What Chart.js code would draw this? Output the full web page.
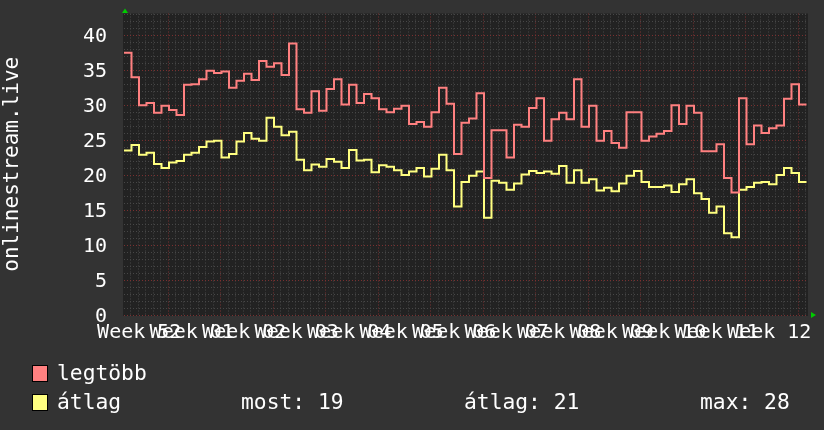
<!DOCTYPE html>
<html><head><meta charset="utf-8">
<script src="https://cdn.jsdelivr.net/npm/chart.js@4/dist/chart.umd.min.js"></script>
<style>
html,body{margin:0;padding:0;background:#333333;}
#wrap{position:relative;width:824px;height:430px;overflow:hidden;background:#333333;}
canvas{position:absolute;left:0;top:0;}
.lg{position:absolute;font-family:'DejaVu Sans Mono',monospace;font-size:21.3px;line-height:24px;color:#ffffff;white-space:pre;}
.sw{position:absolute;width:14px;height:15px;border:1px solid #000;}
</style></head><body>
<div id="wrap"><canvas id="c" width="824" height="430"></canvas><div id="legend"></div></div>
<script>
// ---- data ----
const weekLabels = ['Week 52','Week 01','Week 02','Week 03','Week 04','Week 05','Week 06','Week 07','Week 08','Week 09','Week 10','Week 11','Week 12'];
const yTickLabels = [0,5,10,15,20,25,30,35,40];
const seriesNames = ['legtöbb','átlag'];
const statNames = ['most','átlag','max'];
const legtobb = [37.5,34.0,30.0,30.3,28.9,29.9,29.3,28.6,32.9,33.0,33.7,34.9,34.6,34.8,32.5,33.5,34.5,33.6,36.3,35.5,36.0,34.3,38.8,29.4,28.9,32.0,29.2,32.3,33.7,
  30.1,32.9,30.3,31.6,31.0,29.4,29.0,29.5,29.9,27.3,27.6,26.9,29.0,32.5,30.2,23.0,27.5,28.1,31.7,19.6,26.4,26.4,22.5,27.2,26.9,29.6,31.0,24.9,28.0,28.9,28.0,
  33.7,26.9,29.9,24.9,26.3,24.6,23.9,29.0,29.0,24.9,25.5,25.9,26.3,30.0,27.3,29.9,28.9,23.4,23.4,24.4,19.6,17.5,31.0,24.4,27.1,26.0,26.7,27.1,30.9,33.0,30.1];
const atlag = [23.5,24.3,22.9,23.2,21.6,21.0,21.8,22.0,22.9,23.2,24.0,24.8,24.9,22.5,23.0,24.8,26.0,25.2,24.9,28.2,26.9,25.7,26.2,22.2,20.7,21.5,21.2,22.3,21.9,
  21.0,23.6,22.1,22.2,20.4,21.4,21.2,20.7,20.0,20.5,21.0,19.8,20.9,22.9,20.7,15.5,19.0,19.9,20.5,13.9,19.2,18.9,17.9,18.8,20.1,20.6,20.3,20.5,20.2,21.3,18.9,
  20.7,18.9,19.4,17.8,18.2,17.7,18.8,19.9,20.6,19.0,18.3,18.3,18.5,17.6,18.7,19.4,17.4,16.6,14.6,15.5,11.7,11.1,17.9,18.3,18.9,19.0,18.7,20.0,21.0,20.3,19.0];

// ---- scale setup ----
const X_MAX = 91.2, FIRST_MAJOR = 5.9, WEEK = 7, Y_MAX = 43.1;
const FONT = 'DejaVu Sans Mono';
const RED = '#ff8080', YEL = '#ffff80';

function pts(arr){ const p = arr.map((v,i)=>({x:i,y:v})); p.push({x:arr.length,y:arr[arr.length-1]}); return p; }
function majorIndexX(v){ const k=(v-FIRST_MAJOR)/WEEK, r=Math.round(k); return Math.abs(k-r)<1e-6 ? r : -1; }
function isMajorY(v){ return Math.abs(v/5-Math.round(v/5))<1e-6; }

const bgPlugin = {
  id:'bg',
  beforeDraw(chart){
    const {ctx, chartArea:a} = chart;
    ctx.save();
    ctx.fillStyle = '#333333'; ctx.fillRect(0,0,chart.width,chart.height);
    ctx.fillStyle = '#222222'; ctx.fillRect(a.left-1,a.top,a.right-a.left+1,a.bottom-a.top+1);
    ctx.restore();
  }
};
const arrowPlugin = {
  id:'arrows',
  afterDraw(chart){
    const {ctx, chartArea:a} = chart;
    ctx.save(); ctx.fillStyle = '#00cc00';
    ctx.beginPath(); ctx.moveTo(a.left+1, a.top-5); ctx.lineTo(a.left-2, a.top-0.5); ctx.lineTo(a.left+4, a.top-0.5); ctx.closePath(); ctx.fill();
    ctx.beginPath(); ctx.moveTo(a.right+8, a.bottom); ctx.lineTo(a.right+3, a.bottom-3); ctx.lineTo(a.right+3, a.bottom+3); ctx.closePath(); ctx.fill();
    ctx.restore();
  }
};

new Chart(document.getElementById('c'), {
  type:'line',
  data:{datasets:[
    {label:seriesNames[0], data:pts(legtobb), borderColor:RED, borderWidth:2, pointRadius:0, stepped:true, fill:false, tension:0},
    {label:seriesNames[1], data:pts(atlag), borderColor:YEL, borderWidth:2, pointRadius:0, stepped:true, fill:false, tension:0}
  ]},
  options:{
    animation:false, responsive:false, maintainAspectRatio:false, events:[],
    layout:{padding:{left:0,right:16,top:13.5,bottom:85}},
    plugins:{legend:{display:false}, tooltip:{enabled:false}},
    scales:{
      x:{
        type:'linear', min:0, max:X_MAX,
        afterBuildTicks(s){ const t=[]; for(let k=0; FIRST_MAJOR-5+k < X_MAX; k++) t.push({value:FIRST_MAJOR-5+k}); s.ticks=t; },
        afterFit(s){ s.height = 30; },
        ticks:{autoSkip:false, maxRotation:0, minRotation:0, color:'#ffffff', padding:0, labelOffset:-29,
          font:{family:FONT, size:20},
          callback(v){ const r=majorIndexX(v); return (r>=0 && r<weekLabels.length) ? weekLabels[r] : ''; }},
        grid:{drawTicks:true, tickLength:6, tickColor:'rgba(0,0,0,0)', lineWidth:1,
          color:c=> majorIndexX(c.tick.value)>=0 ? '#7a3030' : '#474747'},
        border:{display:false, dash:[1,2]}
      },
      y:{
        type:'linear', min:0, max:Y_MAX,
        afterBuildTicks(s){ const t=[]; for(let v=0; v<Y_MAX; v++) t.push({value:v}); s.ticks=t; },
        afterFit(s){ s.width = 124; },
        ticks:{autoSkip:false, color:'#ffffff', padding:0, labelOffset:2, font:{family:FONT, size:20},
          callback(v){ return yTickLabels.includes(v) ? String(v) : ''; }},
        grid:{drawTicks:true, tickLength:17, tickColor:'rgba(0,0,0,0)', lineWidth:1,
          color:c=> isMajorY(c.tick.value) ? '#7a3030' : '#474747'},
        border:{display:false, dash:[1,2]},
        title:{display:true, text:'onlinestream.live', color:'#ffffff', font:{family:FONT, size:21}, padding:{top:0,bottom:0}}
      }
    }
  },
  plugins:[bgPlugin, arrowPlugin]
});

// ---- legend (HTML text) ----
const last = atlag[atlag.length-1];
const avg = atlag.reduce((a,b)=>a+b,0)/atlag.length;
const mx = Math.max(...atlag);
const statVals = [Math.round(last), Math.round(avg), Math.round(mx)];
const lg = document.getElementById('legend');
function add(cls, css, txt){ const d=document.createElement('div'); d.className=cls; Object.assign(d.style, css); if(txt!==undefined) d.textContent=txt; lg.appendChild(d); }
add('sw', {left:'32px', top:'365px', background:RED});
add('sw', {left:'32px', top:'394px', background:YEL});
add('lg', {left:'57px', top:'361px'}, seriesNames[0]);
add('lg', {left:'57px', top:'390px'}, seriesNames[1]);
const statX = [241, 464, 700];
statNames.forEach((n,i)=> add('lg', {left:statX[i]+'px', top:'390px'}, n+': '+statVals[i]));
</script>
</body></html>
